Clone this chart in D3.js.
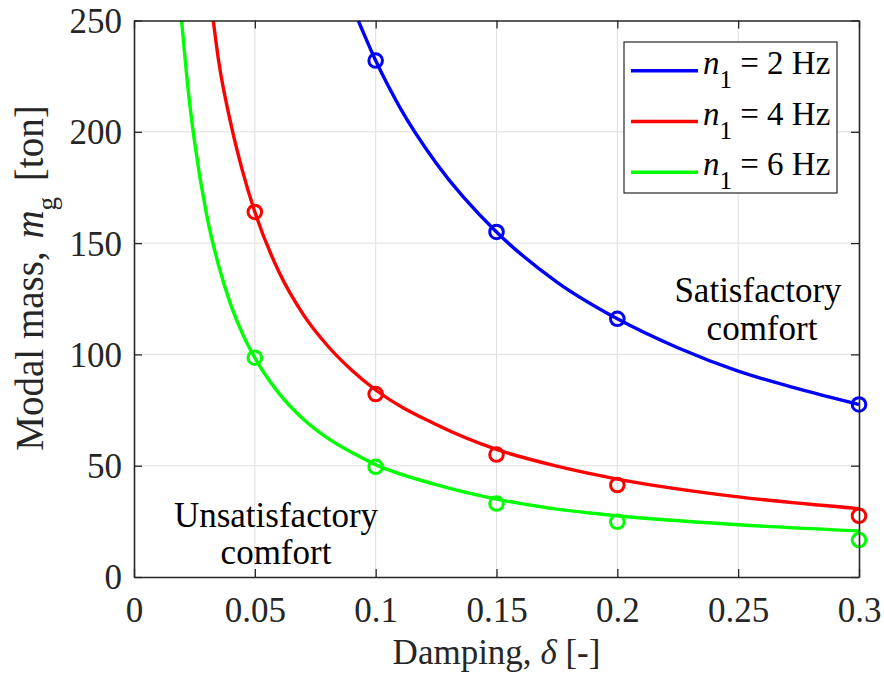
<!DOCTYPE html>
<html><head><meta charset="utf-8">
<script src="https://cdn.jsdelivr.net/npm/d3@7"></script>
<style>
body{margin:0;background:#fff}
text{font-family:"Liberation Serif","Times New Roman",serif}
</style></head>
<body><svg id="chart" width="884" height="679"></svg>
<script>
// ---- data ----
const dampingTicks = [0, 0.05, 0.1, 0.15, 0.2, 0.25, 0.3];
const massTicks = [0, 50, 100, 150, 200, 250];
const seriesLabels = ["2 Hz", "4 Hz", "6 Hz"];
const seriesColors = ["#0000ff", "#ff0000", "#00ff00"];

// markers (simulation points)
const marker2Hz = [[0.1, 232], [0.15, 155], [0.2, 116], [0.3, 77.5]];
const marker4Hz = [[0.05, 164], [0.1, 82.2], [0.15, 55], [0.2, 41.3], [0.3, 27.5]];
const marker6Hz = [[0.05, 98.5], [0.1, 49.5], [0.15, 33], [0.2, 24.8], [0.3, 16.6]];

// curves
const curve2Hz = [[0.0928, 250], [0.1, 232], [0.11, 211], [0.125, 186], [0.15, 155], [0.175, 132.5],
  [0.2, 116], [0.225, 103], [0.25, 92.5], [0.275, 84.5], [0.3, 77.5]];
const curve4Hz = [[0.0328, 250], [0.035, 232], [0.04, 204], [0.045, 182], [0.05, 164], [0.06, 137],
  [0.07, 118], [0.08, 104], [0.09, 93], [0.1, 84], [0.125, 68.5], [0.15, 57.3], [0.175, 49.8],
  [0.2, 44], [0.25, 36], [0.3, 30.7]];
const curve6Hz = [[0.0197, 250], [0.0225, 218], [0.025, 196], [0.03, 163], [0.035, 140], [0.04, 122.5],
  [0.045, 109], [0.05, 98.5], [0.06, 82.5], [0.07, 71], [0.08, 62.5], [0.09, 56], [0.1, 50.5],
  [0.125, 41.5], [0.15, 35], [0.175, 30.5], [0.2, 27.5], [0.25, 23.5], [0.3, 20.7]];

const curves = [curve2Hz, curve4Hz, curve6Hz];
const markers = [marker2Hz, marker4Hz, marker6Hz];

// ---- layout ----
const L = 134, R = 859, T = 20.5, B = 577;
const svg = d3.select("#chart");
const x = d3.scaleLinear().domain([0, 0.3]).range([L, R]);
const y = d3.scaleLinear().domain([0, 250]).range([B, T]);
const axisColor = "#262626";

// grid
const grid = svg.append("g");
grid.selectAll(".gx").data(dampingTicks.slice(1, -1)).join("line")
  .attr("x1", d => x(d)).attr("x2", d => x(d)).attr("y1", T).attr("y2", B)
  .attr("stroke", "#dfdfdf").attr("stroke-width", 1);
grid.selectAll(".gy").data(massTicks.slice(1, -1)).join("line")
  .attr("y1", d => y(d)).attr("y2", d => y(d)).attr("x1", L).attr("x2", R)
  .attr("stroke", "#dfdfdf").attr("stroke-width", 1);

// clip
svg.append("clipPath").attr("id", "clip").append("rect")
  .attr("x", L).attr("y", T).attr("width", R - L).attr("height", B - T);

const line = d3.line().x(d => x(d[0])).y(d => y(d[1])).curve(d3.curveMonotoneX);
const plot = svg.append("g").attr("clip-path", "url(#clip)");
curves.forEach((c, i) => {
  plot.append("path").datum(c).attr("d", line).attr("fill", "none")
    .attr("stroke", seriesColors[i]).attr("stroke-width", 3.4).attr("stroke-linejoin", "round");
});
markers.forEach((m, i) => {
  svg.append("g").selectAll("circle").data(m).join("circle")
    .attr("cx", d => x(d[0])).attr("cy", d => y(d[1])).attr("r", 6.8)
    .attr("fill", "none").attr("stroke", seriesColors[i]).attr("stroke-width", 3);
});

// axes (box with inward ticks)
const tickLen = 8;
const axB = svg.append("g").attr("transform", `translate(0,${B})`)
  .call(d3.axisBottom(x).tickValues(dampingTicks).tickSizeInner(-tickLen).tickSizeOuter(0)
    .tickFormat(d => d3.format("~g")(d)).tickPadding(20));
const axT = svg.append("g").attr("transform", `translate(0,${T})`)
  .call(d3.axisTop(x).tickValues(dampingTicks).tickSizeInner(-tickLen).tickSizeOuter(0).tickFormat(""));
const axLft = svg.append("g").attr("transform", `translate(${L},0)`)
  .call(d3.axisLeft(y).tickValues(massTicks).tickSizeInner(-tickLen).tickSizeOuter(0).tickPadding(12));
const axRgt = svg.append("g").attr("transform", `translate(${R},0)`)
  .call(d3.axisRight(y).tickValues(massTicks).tickSizeInner(-tickLen).tickSizeOuter(0).tickFormat(""));
[axB, axT, axLft, axRgt].forEach(a => {
  a.attr("font-family", null);
  a.select(".domain").attr("stroke", axisColor).attr("stroke-width", 1.6);
  a.selectAll(".tick line").attr("stroke", axisColor).attr("stroke-width", 1.3);
  a.selectAll(".tick text").attr("fill", axisColor)
    .style("font-family", '"Liberation Serif","Times New Roman",serif').style("font-size", "35px");
});
axB.selectAll(".tick text").attr("dy", "0.71em");
axLft.selectAll(".tick text").attr("dy", "0.34em");

// axis labels
const xl = svg.append("text").attr("x", (L + R) / 2).attr("y", 664).attr("text-anchor", "middle")
  .attr("fill", axisColor).style("font-size", "35px");
xl.append("tspan").text("Damping, ");
xl.append("tspan").attr("font-style", "italic").text("δ");
xl.append("tspan").text(" [-]");

const yl = svg.append("text").attr("transform", "translate(43,278) rotate(-90)")
  .attr("text-anchor", "middle").attr("fill", axisColor).style("font-size", "39px");
yl.append("tspan").text("Modal mass, ");
yl.append("tspan").attr("font-style", "italic").attr("dx", 3).text("m");
yl.append("tspan").attr("dy", 13).style("font-size", "27px").text("g");
yl.append("tspan").attr("dy", -13).attr("dx", 6).text(" [ton]");

// annotations
const ann = [["Satisfactory", 758, 302], ["comfort", 762, 340], ["Unsatisfactory", 276, 527], ["comfort", 276, 564]];
svg.selectAll(".ann").data(ann).join("text").attr("x", d => d[1]).attr("y", d => d[2])
  .attr("text-anchor", "middle").attr("fill", "#000").style("font-size", "35px").text(d => d[0]);

// legend
const lg = svg.append("g");
lg.append("rect").attr("x", 624).attr("y", 42).attr("width", 213).attr("height", 151)
  .attr("fill", "#fff").attr("stroke", axisColor).attr("stroke-width", 1.2);
seriesLabels.forEach((s, i) => {
  const yy = 70.7 + i * 50.8;
  lg.append("line").attr("x1", 631).attr("x2", 698).attr("y1", yy).attr("y2", yy)
    .attr("stroke", seriesColors[i]).attr("stroke-width", 3.4);
  const t = lg.append("text").attr("x", 703).attr("y", yy + 3).attr("fill", "#000").style("font-size", "33px");
  t.append("tspan").attr("font-style", "italic").text("n");
  t.append("tspan").attr("dy", 14).style("font-size", "25px").text("1");
  t.append("tspan").attr("dy", -14).text(" = " + s);
});
</script></body></html>
